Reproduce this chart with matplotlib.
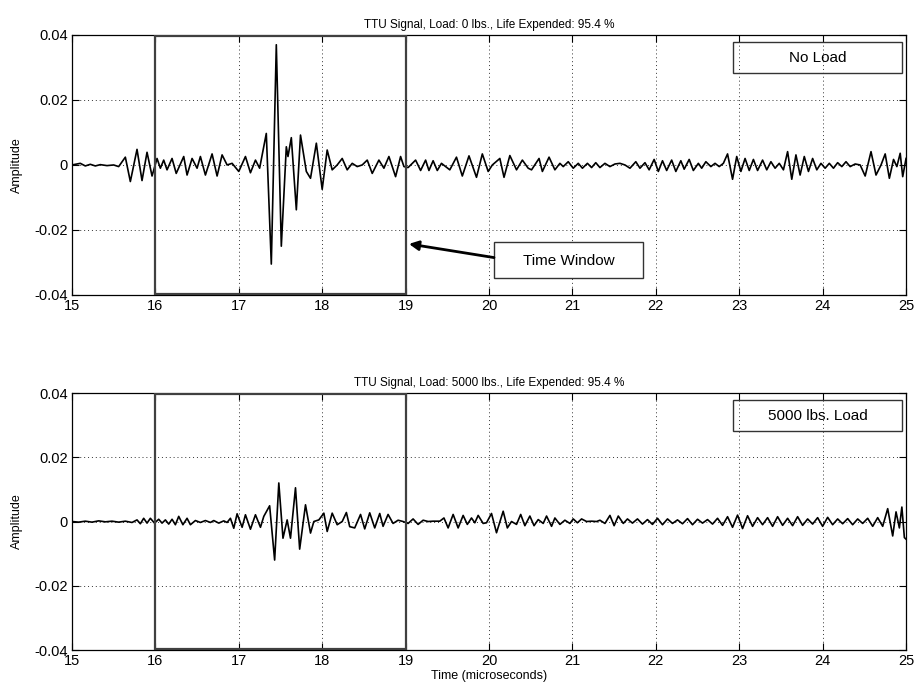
import numpy as np
import matplotlib
matplotlib.use('Agg')
import matplotlib.pyplot as plt
from matplotlib.patches import Rectangle

plt.rcParams['font.family'] = ['Liberation Sans', 'DejaVu Sans']

# signal extrema: time (us), amplitude (x 0.001)
t_top = [15.00, 15.10, 15.16, 15.22, 15.28, 15.34, 15.42, 15.50, 15.56, 15.64, 15.70, 15.78, 15.84,
         15.90, 15.96, 16.02, 16.06, 16.10, 16.14, 16.20, 16.25,
         16.34, 16.38, 16.44, 16.50, 16.54, 16.60, 16.68, 16.74, 16.80, 16.86, 16.92, 17.00,
         17.08, 17.14, 17.20, 17.25, 17.33, 17.39, 17.45, 17.51, 17.57, 17.59, 17.63, 17.69,
         17.74, 17.81, 17.86, 17.93, 18.00, 18.06, 18.12, 18.18, 18.24, 18.30, 18.36, 18.42,
         18.48, 18.54, 18.60, 18.68, 18.74, 18.80, 18.88, 18.94, 18.98,
         19.03, 19.12, 19.18, 19.24, 19.28, 19.33, 19.38, 19.43, 19.48, 19.53, 19.61, 19.68,
         19.76, 19.85, 19.92, 19.99, 20.04, 20.13, 20.18, 20.25, 20.33, 20.40, 20.47, 20.51,
         20.60, 20.64, 20.72, 20.79, 20.85, 20.89, 20.95, 21.01, 21.07, 21.12, 21.18, 21.23,
         21.28, 21.33, 21.39, 21.45, 21.51, 21.57, 21.63, 21.69, 21.76, 21.81, 21.87, 21.92,
         21.98, 22.03, 22.08, 22.13, 22.19, 22.24, 22.30, 22.34, 22.40, 22.45, 22.51, 22.55,
         22.60, 22.66, 22.71, 22.76, 22.81, 22.86, 22.92, 22.97, 23.02, 23.07, 23.12, 23.17,
         23.22, 23.28, 23.33, 23.38, 23.43, 23.48, 23.53, 23.58, 23.63, 23.68, 23.73, 23.78,
         23.83, 23.88, 23.93, 23.98, 24.03, 24.08, 24.13, 24.18, 24.23, 24.28, 24.33, 24.39,
         24.45, 24.51, 24.58, 24.64, 24.70, 24.75, 24.80, 24.85, 24.89, 24.93, 24.96, 25.00]
a_top = [0.0, 0.5, -0.3, 0.2, -0.3, 0.1, -0.2, 0.0, -0.5, 2.4, -5.1, 4.8, -4.8,
         3.9, -3.4, 2.0, -1.0, 1.5, -1.5, 2.0, -2.6,
         2.6, -3.1, 2.0, -1.0, 2.6, -3.1, 3.4, -3.4, 3.1, 0.0, 0.5, -2.0,
         2.6, -2.4, 1.5, -1.0, 9.7, -30.5, 37.0, -25.0, 5.6, 2.6, 8.4, -13.8,
         9.2, -2.0, -4.1, 6.7, -7.5, 4.6, -1.5, 0.0, 2.0, -1.5, 0.5, -0.5,
         0.0, 1.5, -2.6, 1.5, -1.0, 2.6, -3.6, 2.6, -0.5,
         -0.8, 1.5, -1.7, 1.5, -1.7, 1.3, -1.7, 0.5, -0.5, -1.5, 2.4, -3.4,
         2.8, -3.8, 3.4, -2.0, 0.0, 2.0, -3.8, 2.9, -1.5, 1.5, -1.0, -1.5,
         2.0, -2.0, 2.4, -1.5, 0.5, -0.5, 1.0, -1.0, 0.5, -1.0, 0.5, -0.8,
         0.7, -0.8, 0.5, -0.5, 0.3, 0.5, 0.0, -1.0, 1.0, -1.0, 0.7, -1.5,
         1.7, -2.0, 1.3, -1.7, 1.5, -2.0, 1.3, -1.3, 1.7, -1.7, 0.5, -1.0,
         1.0, -0.5, 0.5, -0.5, 0.5, 3.4, -4.4, 2.6, -2.0, 2.0, -1.7, 1.7,
         -1.7, 1.5, -1.5, 1.0, -1.0, 0.5, -1.5, 4.1, -4.4, 3.1, -3.1, 2.6,
         -2.0, 2.0, -1.5, 0.5, -1.0, 0.5, -1.0, 0.7, -0.5, 1.0, -0.5, 0.3,
         0.0, -3.4, 4.1, -3.1, 0.0, 3.4, -4.1, 1.7, -0.5, 3.6, -3.6, 2.0]

t_bot = [15.00, 15.08, 15.16, 15.24, 15.32, 15.40, 15.48, 15.56, 15.64, 15.72, 15.78, 15.82,
         15.86, 15.90, 15.94, 15.99, 16.04, 16.08, 16.12, 16.16, 16.20, 16.24, 16.28, 16.33,
         16.38, 16.42, 16.48, 16.54, 16.60, 16.66, 16.70, 16.76, 16.82, 16.86, 16.90, 16.94,
         16.98, 17.04, 17.08, 17.14, 17.20, 17.26, 17.30, 17.37, 17.43, 17.48, 17.53, 17.58,
         17.62, 17.68, 17.73, 17.80, 17.86, 17.90, 17.96, 18.02, 18.06, 18.12, 18.18, 18.24,
         18.29, 18.33, 18.39, 18.46, 18.51, 18.57, 18.63, 18.69, 18.73, 18.79, 18.85, 18.91,
         18.97, 19.03, 19.09, 19.15, 19.21, 19.27, 19.33, 19.41, 19.46, 19.51, 19.57, 19.63,
         19.69, 19.74, 19.79, 19.83, 19.87, 19.93, 19.97, 20.03, 20.09, 20.17, 20.22, 20.27,
         20.33, 20.38, 20.43, 20.49, 20.54, 20.59, 20.65, 20.69, 20.75, 20.79, 20.85, 20.91,
         20.97, 21.01, 21.06, 21.11, 21.17, 21.23, 21.29, 21.33, 21.39, 21.45, 21.50, 21.55,
         21.61, 21.66, 21.72, 21.78, 21.84, 21.90, 21.96, 22.02, 22.08, 22.14, 22.20, 22.26,
         22.32, 22.38, 22.44, 22.50, 22.56, 22.62, 22.68, 22.74, 22.80, 22.86, 22.92, 22.98,
         23.04, 23.10, 23.16, 23.22, 23.28, 23.34, 23.40, 23.46, 23.52, 23.58, 23.64, 23.70,
         23.76, 23.82, 23.88, 23.94, 24.00, 24.06, 24.12, 24.18, 24.24, 24.30, 24.36, 24.42,
         24.48, 24.54, 24.60, 24.66, 24.72, 24.78, 24.84, 24.88, 24.92, 24.95, 24.98, 25.00]
a_bot = [0.0, -0.2, 0.1, -0.2, 0.2, -0.1, 0.1, -0.2, 0.1, -0.3, 0.5, -0.7,
         1.0, -0.5, 1.0, -0.5, 0.7, -0.5, 0.5, -0.8, 0.7, -1.0, 1.6, -1.0,
         1.0, -1.0, 0.3, -0.3, 0.3, -0.3, 0.3, -0.5, 0.2, -0.3, 1.0, -2.1,
         2.4, -1.8, 2.1, -2.4, 2.1, -1.8, 1.6, 4.9, -12.0, 12.0, -5.2, 0.5,
         -5.2, 10.5, -8.6, 5.2, -3.6, 0.0, 0.5, 2.6, -3.1, 2.6, -1.0, 0.0,
         2.8, -1.6, -2.0, 2.2, -2.3, 2.7, -2.0, 2.5, -1.5, 2.2, -0.6, 0.4,
         0.0, -0.6, 0.8, -0.9, 0.4, 0.0, 0.1, 0.1, 1.1, -2.0, 2.2, -2.0,
         1.9, -0.9, 1.1, -0.4, 1.9, -0.6, -0.4, 2.5, -3.5, 3.2, -2.0, 0.0,
         -0.9, 2.2, -1.3, 1.7, -1.3, 0.6, -0.6, 1.7, -1.5, 1.1, -0.9, 0.4,
         -0.6, 0.8, -0.4, 0.8, 0.0, 0.1, 0.0, 0.4, -0.6, 1.9, -1.3, 1.7,
         -0.6, 0.8, -0.5, 0.8, -0.8, 0.6, -0.9, 1.0, -1.0, 0.8, -0.6, 0.5,
         -0.7, 0.9, -1.0, 0.7, -0.5, 0.6, -0.8, 1.0, -1.2, 1.5, -1.8, 2.0,
         -2.2, 1.8, -1.5, 1.2, -1.0, 1.2, -1.5, 1.5, -1.2, 1.0, -1.3, 1.5,
         -1.2, 0.8, -0.8, 1.2, -1.5, 1.3, -1.0, 0.8, -0.7, 0.9, -1.0, 0.8,
         -0.6, 1.0, -1.5, 1.2, -1.5, 4.0, -4.5, 3.0, -2.0, 4.5, -5.0, -5.5]

titles = ['TTU Signal, Load: 0 lbs., Life Expended: 95.4 %',
          'TTU Signal, Load: 5000 lbs., Life Expended: 95.4 %']
box_labels = ['No Load', '5000 lbs. Load']
xticks = [15, 16, 17, 18, 19, 20, 21, 22, 23, 24, 25]
yticks = [-0.04, -0.02, 0, 0.02, 0.04]
ytick_labels = ['-0.04', '-0.02', '0', '0.02', '0.04']
window = (16, 19)

fig = plt.figure(figsize=(9.19, 6.94), dpi=100)
ax1 = fig.add_axes([0.0783, 0.575, 0.9076, 0.3746])
ax2 = fig.add_axes([0.0783, 0.0634, 0.9076, 0.3703])

series = [(t_top, a_top), (t_bot, a_bot)]
for ax, (t, a), ttl, lab in zip([ax1, ax2], series, titles, box_labels):
    ax.plot(t, np.array(a) * 0.001, color='k', lw=1.2, solid_joinstyle='round')
    ax.set_xlim(15, 25)
    ax.set_ylim(-0.04, 0.04)
    ax.set_xticks(xticks)
    ax.set_yticks(yticks)
    ax.set_yticklabels(ytick_labels)
    ax.tick_params(direction='in', top=True, right=True, labelsize=10.5, length=5, pad=3)
    ax.grid(True, color='0.2', linestyle=(0, (1, 3)), lw=0.7)
    for s in ax.spines.values():
        s.set_linewidth(0.9)
    ax.set_title(ttl, fontsize=8.5, pad=5)
    ax.set_ylabel('Amplitude', fontsize=9, labelpad=8)
    # time window
    ax.add_patch(Rectangle((window[0], -0.0398), window[1] - window[0], 0.0796,
                           fill=False, ec='0.25', lw=1.6, zorder=3))
    # label box
    ax.add_patch(Rectangle((22.93, 0.0283), 2.02, 0.0095, fill=False, ec='0.2', lw=1.0,
                           zorder=4))
    ax.text(23.94, 0.0329, lab, ha='center', va='center', fontsize=11, zorder=5)

ax2.set_xlabel('Time (microseconds)', fontsize=9, labelpad=1)

# annotation in top panel
ax1.add_patch(Rectangle((20.06, -0.0348), 1.79, 0.0111, fill=True, fc='white', ec='0.2',
                        lw=1.0, zorder=4))
ax1.text(20.955, -0.0294, 'Time Window', ha='center', va='center', fontsize=11, zorder=5)
ax1.annotate('', xy=(19.04, -0.0243), xytext=(20.06, -0.0285),
             arrowprops=dict(arrowstyle='-|>', color='k', lw=2.0, mutation_scale=14,
                             shrinkA=0, shrinkB=0), zorder=5)

fig.savefig('out.png', dpi=100)
